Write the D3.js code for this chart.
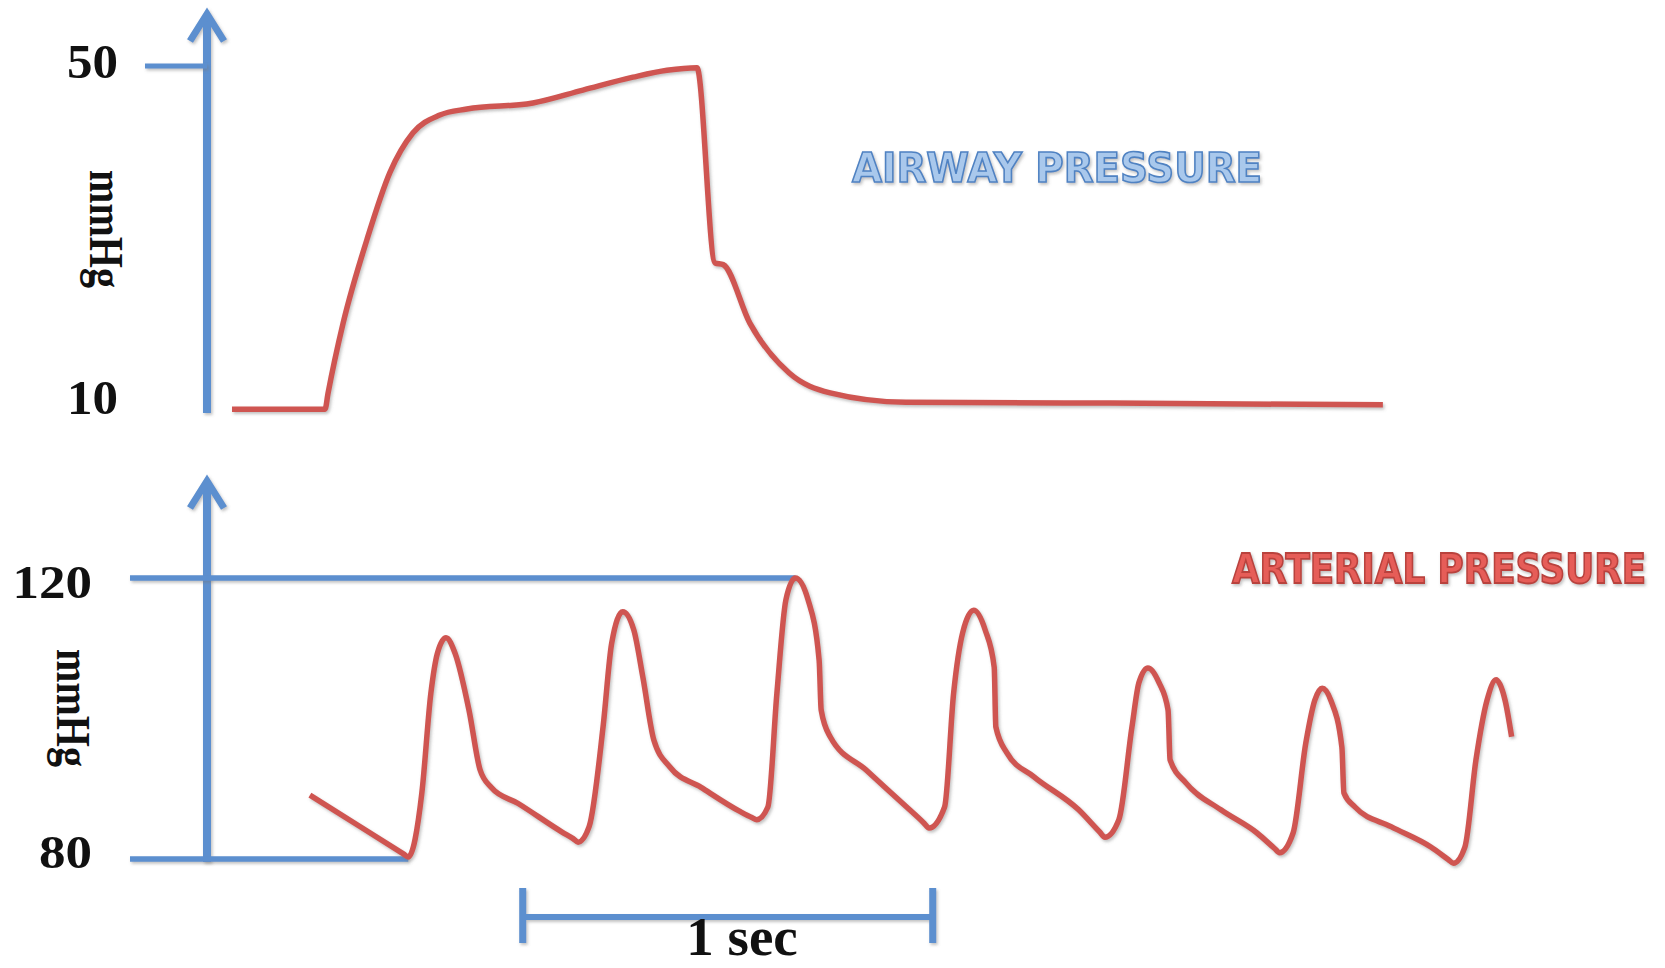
<!DOCTYPE html>
<html>
<head>
<meta charset="utf-8">
<script src="https://cdn.jsdelivr.net/npm/d3@7"></script>
<style>
  html, body { margin: 0; padding: 0; background: #ffffff; }
  svg { display: block; }
</style>
</head>
<body>
<script>
// ---------- DATA ----------
// Airway pressure trace (time in seconds, pressure in mmHg)
const airwayTime = [0.061, 0.288, 0.295, 0.332, 0.390, 0.446, 0.502, 0.568, 0.634, 0.795, 0.917, 1.039, 1.122, 1.195,
  1.239, 1.259, 1.324, 1.420, 1.520, 1.705, 2.202, 2.868];
const airwayPressure = [10.1, 10.1, 11.9, 20.1, 29.8, 37.6, 42.2, 44.3, 45.0, 45.7, 47.2, 48.7, 49.5, 49.8,
  27.1, 26.9, 20.1, 14.3, 12.0, 10.9, 10.8, 10.6];

// Arterial pressure trace (time in seconds, pressure in mmHg)
const arterialTime = [0.251, 0.371, 0.479, 0.491, 0.524, 0.546, 0.562, 0.583, 0.605, 0.639, 0.666, 0.693, 0.759, 0.867, 0.893, 0.905,
  0.932, 0.966, 0.987, 1.014, 1.041, 1.063, 1.090, 1.129, 1.205, 1.302, 1.329, 1.341,
  1.368, 1.390, 1.412, 1.435, 1.466, 1.493, 1.498, 1.520, 1.607, 1.695, 1.749, 1.761,
  1.799, 1.821, 1.843, 1.870, 1.898, 1.920, 1.924, 1.951, 2.017, 2.126, 2.178, 2.190,
  2.224, 2.256, 2.273, 2.295, 2.322, 2.344, 2.349, 2.388, 2.473, 2.561, 2.604, 2.616,
  2.649, 2.680, 2.702, 2.720, 2.741, 2.768, 2.773, 2.800, 2.888, 2.985, 3.028, 3.040,
  3.068, 3.095, 3.122, 3.144, 3.166, 3.182];
const arterialPressure = [89.1, 84.7, 80.74, 80.3, 89.4, 103.6, 109.3, 111.5, 109.3, 101.2, 92.7, 90.2, 87.9, 83.8, 82.9, 82.4,
  84.6, 98.8, 110.7, 115.2, 112.6, 105.9, 96.9, 93.1, 90.2, 86.7, 85.9, 85.6,
  87.4, 103.6, 116.9, 120.0, 116.9, 108.3, 101.2, 97.4, 92.7, 88.0, 85.1, 84.4,
  87.4, 103.6, 112.2, 115.4, 112.6, 107.3, 98.8, 95.1, 91.7, 87.0, 83.8, 83.1,
  85.6, 98.8, 105.1, 107.2, 105.1, 101.2, 94.1, 90.8, 87.0, 83.7, 81.5, 80.9,
  83.7, 96.5, 102.6, 104.3, 102.6, 95.9, 89.4, 87.4, 84.6, 81.7, 79.9, 79.4,
  81.7, 94.1, 102.6, 105.5, 102.6, 97.4];

const airwayTicks = [10, 50];
const arterialTicks = [80, 120];
const scaleBarSeconds = [0.77, 1.77];
const scaleBarLabel = "1 sec";
const unitLabel = "mmHg";
const airwayTitle = "AIRWAY PRESSURE";
const arterialTitle = "ARTERIAL PRESSURE";

// ---------- LAYOUT ----------
const W = 1665, H = 968;
const BLUE = "#5c8fcf", RED = "#cf5551";

const svg = d3.select("body").append("svg").attr("width", W).attr("height", H);
svg.append("rect").attr("width", W).attr("height", H).attr("fill", "#fff");

const defs = svg.append("defs");
const f = defs.append("filter").attr("id", "sh").attr("filterUnits", "userSpaceOnUse")
  .attr("x", 0).attr("y", 0).attr("width", W).attr("height", H);
f.append("feDropShadow").attr("dx", 1.5).attr("dy", 2).attr("stdDeviation", 1.5)
  .attr("flood-color", "#777").attr("flood-opacity", 0.45);

const x = d3.scaleLinear().domain([0, 1]).range([207, 617]);
const yTop = d3.scaleLinear().domain([10, 50]).range([410, 66]);
const yBot = d3.scaleLinear().domain([80, 120]).range([859, 578]);

const axisX = x(0);

// ---------- AXES (blue arrows) ----------
function arrowAxis(yBottom, yTip) {
  const g = svg.append("g").attr("filter", "url(#sh)");
  g.append("line").attr("x1", axisX).attr("x2", axisX).attr("y1", yBottom).attr("y2", yTip + 4)
    .attr("stroke", BLUE).attr("stroke-width", 8);
  g.append("polyline")
    .attr("points", [[axisX - 17, yTip + 31], [axisX, yTip + 4], [axisX + 17, yTip + 31]].map(p => p.join(",")).join(" "))
    .attr("fill", "none").attr("stroke", BLUE).attr("stroke-width", 7).attr("stroke-linejoin", "miter");
}
arrowAxis(yTop(10) + 3, yTop(50) - 56);
arrowAxis(yBot(80) + 3, yBot(120) - 101);

// top panel: tick line at 50 only (left of the axis)
svg.append("line").attr("x1", 145).attr("x2", axisX).attr("y1", yTop(50)).attr("y2", yTop(50))
  .attr("stroke", BLUE).attr("stroke-width", 5).attr("filter", "url(#sh)");

// bottom panel: reference lines at 120 (to the highest peak) and 80 (to the first trough)
const peakIdx = d3.maxIndex(arterialPressure);
let troughIdx = 1;
for (let i = 1; i < arterialPressure.length - 1; i++) {
  if (arterialPressure[i] < arterialPressure[i - 1] && arterialPressure[i] < arterialPressure[i + 1]) { troughIdx = i; break; }
}
svg.append("line").attr("x1", 130).attr("x2", x(arterialTime[peakIdx])).attr("y1", yBot(120)).attr("y2", yBot(120))
  .attr("stroke", BLUE).attr("stroke-width", 5.5).attr("filter", "url(#sh)");
svg.append("line").attr("x1", 130).attr("x2", x(arterialTime[troughIdx])).attr("y1", yBot(80)).attr("y2", yBot(80))
  .attr("stroke", BLUE).attr("stroke-width", 5.5).attr("filter", "url(#sh)");

// ---------- TICK LABELS ----------
const serif = "'Liberation Serif', 'Times New Roman', serif";
const topLabelDy = { 10: 4, 50: 12 };
svg.selectAll("text.tt").data(airwayTicks).enter().append("text")
  .attr("x", 118).attr("y", d => yTop(d) + topLabelDy[d])
  .attr("text-anchor", "end").attr("font-family", serif).attr("font-weight", "bold")
  .attr("font-size", 48).attr("fill", "#111")
  .attr("textLength", 51).attr("lengthAdjust", "spacingAndGlyphs").text(d => d);
const botLabelDy = { 80: 9, 120: 20 };
svg.selectAll("text.bt").data(arterialTicks).enter().append("text")
  .attr("x", 92).attr("y", d => yBot(d) + botLabelDy[d])
  .attr("text-anchor", "end").attr("font-family", serif).attr("font-weight", "bold")
  .attr("font-size", 46).attr("fill", "#111")
  .attr("textLength", d => String(d).length * 26.5).attr("lengthAdjust", "spacingAndGlyphs")
  .text(d => d);

// unit labels (rotated)
function unit(cx, cy) {
  svg.append("text").attr("transform", `translate(${cx},${cy}) rotate(90)`)
    .attr("text-anchor", "middle").attr("dy", "0.32em")
    .attr("font-family", serif).attr("font-weight", "bold").attr("font-size", 48)
    .attr("textLength", 118).attr("lengthAdjust", "spacingAndGlyphs")
    .attr("fill", "#111").text(unitLabel);
}
unit(105, 229);
unit(72, 708);

// ---------- TRACES ----------
const lineTop = d3.line().x(d => x(d[0])).y(d => yTop(d[1])).curve(d3.curveMonotoneX);
const lineBot = d3.line().x(d => x(d[0])).y(d => yBot(d[1])).curve(d3.curveMonotoneX);

svg.append("path").datum(d3.zip(airwayTime, airwayPressure)).attr("d", lineTop)
  .attr("fill", "none").attr("stroke", RED).attr("stroke-width", 5.5)
  .attr("stroke-linejoin", "round").attr("stroke-linecap", "butt").attr("filter", "url(#sh)");
svg.append("path").datum(d3.zip(arterialTime, arterialPressure)).attr("d", lineBot)
  .attr("fill", "none").attr("stroke", RED).attr("stroke-width", 5.5)
  .attr("stroke-linejoin", "round").attr("stroke-linecap", "butt").attr("filter", "url(#sh)");

// ---------- TITLES ----------
const sans = "'DejaVu Sans', Verdana, sans-serif";
svg.append("g").attr("filter", "url(#sh)")
  .append("text").attr("transform", "translate(852,182) scale(1,1.08)")
  .attr("font-family", sans).attr("font-weight", "bold").attr("font-size", 38)
  .attr("textLength", 410).attr("lengthAdjust", "spacingAndGlyphs")
  .attr("fill", "#a9c8ec").attr("stroke", "#4f82c2").attr("stroke-width", 1.5)
  .text(airwayTitle);
svg.append("g").attr("filter", "url(#sh)")
  .append("text").attr("transform", "translate(1232,583) scale(1,1.18)")
  .attr("font-family", sans).attr("font-weight", "bold").attr("font-size", 35)
  .attr("textLength", 414).attr("lengthAdjust", "spacingAndGlyphs")
  .attr("fill", "#e65d58").attr("stroke", "#b9423e").attr("stroke-width", 1.5)
  .text(arterialTitle);

// ---------- SCALE BAR ----------
const sb = svg.append("g").attr("filter", "url(#sh)");
const sbY = 917;
sb.append("line").attr("x1", x(scaleBarSeconds[0])).attr("x2", x(scaleBarSeconds[1]))
  .attr("y1", sbY).attr("y2", sbY).attr("stroke", BLUE).attr("stroke-width", 6);
scaleBarSeconds.forEach(s => {
  sb.append("line").attr("x1", x(s)).attr("x2", x(s)).attr("y1", sbY - 29).attr("y2", sbY + 26)
    .attr("stroke", BLUE).attr("stroke-width", 7);
});
svg.append("text").attr("x", 742).attr("y", 955).attr("text-anchor", "middle")
  .attr("font-family", serif).attr("font-weight", "bold").attr("font-size", 55)
  .attr("fill", "#111").text(scaleBarLabel);
</script>
</body>
</html>
